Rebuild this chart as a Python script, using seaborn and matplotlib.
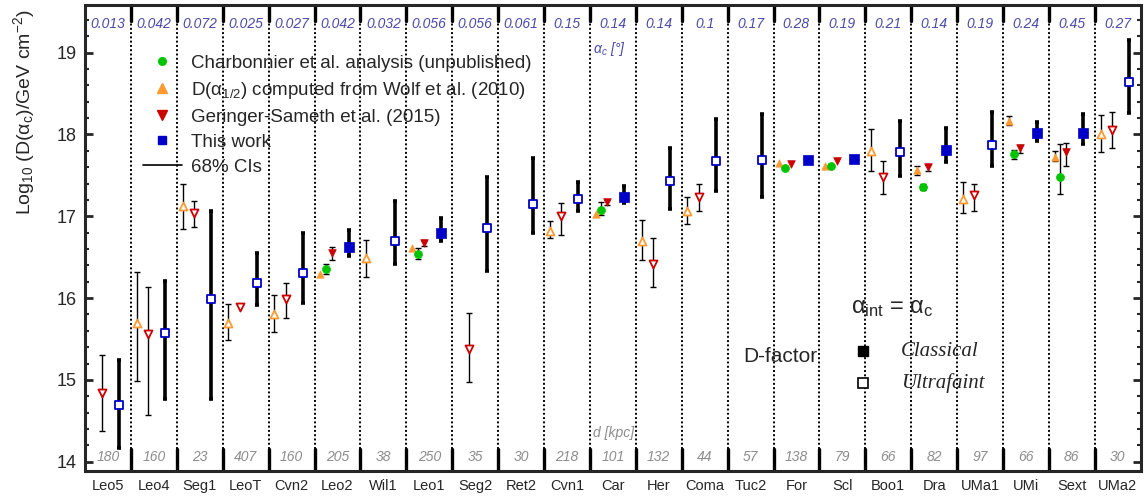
#!/usr/bin/env python3
# -*- coding: utf-8 -*-

"""
D-factor comparison for dwarf spheroidal galaxies.
"""

import numpy as np
import pandas as pd
import matplotlib
matplotlib.use("Agg")
import matplotlib.pyplot as plt
from matplotlib.lines import Line2D
from matplotlib.ticker import MultipleLocator
from matplotlib.transforms import blended_transform_factory
import seaborn as sns

nan = np.nan

galaxies = ["Leo5", "Leo4", "Seg1", "LeoT", "Cvn2", "Leo2", "Wil1", "Leo1",
            "Seg2", "Ret2", "Cvn1", "Car", "Her", "Coma", "Tuc2", "For",
            "Scl", "Boo1", "Dra", "UMa1", "UMi", "Sext", "UMa2"]
alpha_c = ["0.013", "0.042", "0.072", "0.025", "0.027", "0.042", "0.032",
           "0.056", "0.056", "0.061", "0.15", "0.14", "0.14", "0.1", "0.17",
           "0.28", "0.19", "0.21", "0.14", "0.19", "0.24", "0.45", "0.27"]
dist_kpc = [180, 160, 23, 407, 160, 205, 38, 250, 35, 30, 218, 101, 132, 44,
            57, 138, 79, 66, 82, 97, 66, 86, 30]
classical = ["Leo2", "Leo1", "Car", "For", "Scl", "Dra", "UMi", "Sext"]

# This work
tw_val = [14.69, 15.57, 15.99, 16.18, 16.31, 16.63, 16.70, 16.79, 16.86, 17.15,
          17.21, 17.24, 17.43, 17.68, 17.69, 17.69, 17.70, 17.78, 17.81, 17.87,
          18.02, 18.02, 18.64]
tw_lo = [14.17, 14.77, 14.77, 15.91, 15.94, 16.51, 16.42, 16.70, 16.33, 16.80,
         17.07, 17.16, 17.09, 17.31, 17.23, nan, nan, 17.49, 17.66, 17.62,
         17.92, 17.88, 18.26]
tw_hi = [15.24, 16.21, 17.06, 16.55, 16.79, 16.83, 17.19, 16.98, 17.48, 17.71,
         17.42, 17.37, 17.84, 18.19, 18.25, nan, nan, 18.16, 18.08, 18.27,
         18.15, 18.25, 19.16]

# Geringer-Sameth et al. (2015)
gs_val = [14.84, 15.56, 17.04, 15.89, 15.99, 16.55, nan, 16.67, 15.38, nan,
          17.00, 17.17, 16.42, 17.24, nan, 17.64, 17.68, 17.48, 17.60, 17.26,
          17.83, 17.79, 18.05]
gs_lo = [14.38, 14.57, 16.87, nan, 15.76, 16.46, nan, 16.64, 14.97, nan,
         16.77, 17.14, 16.13, 17.06, nan, nan, nan, 17.27, 17.55, 17.07,
         17.77, 17.61, 17.84]
gs_hi = [15.30, 16.13, 17.19, nan, 16.19, 16.62, nan, 16.71, 15.82, nan,
         17.16, 17.20, 16.74, 17.40, nan, nan, nan, 17.67, 17.63, 17.40,
         17.87, 17.90, 18.28]

# D(alpha_1/2) from Wolf et al. (2010)
wo_val = [nan, 15.70, 17.12, 15.70, 15.80, 16.30, 16.49, 16.61, nan, nan,
          16.82, 17.03, 16.70, 17.07, nan, 17.65, 17.62, 17.80, 17.56, 17.21,
          18.17, 17.73, 18.00]
wo_lo = [nan, 14.99, 16.84, 15.49, 15.58, nan, 16.26, nan, nan, nan,
         16.73, nan, 16.46, 16.91, nan, nan, nan, 17.55, 17.50, 17.04,
         18.12, 17.68, 17.79]
wo_hi = [nan, 16.32, 17.39, 15.93, 16.04, nan, 16.71, nan, nan, nan,
         16.94, nan, 16.95, 17.23, nan, nan, nan, 18.07, 17.62, 17.42,
         18.23, 17.80, 18.24]

# Charbonnier et al. (unpublished)
ch_val = [nan, nan, nan, nan, nan, 16.35, nan, 16.54, nan, nan,
          nan, 17.08, nan, nan, nan, 17.59, 17.61, nan, 17.36, nan,
          17.76, 17.48, nan]
ch_lo = [nan, nan, nan, nan, nan, 16.29, nan, 16.48, nan, nan,
         nan, 17.02, nan, nan, nan, nan, nan, nan, 17.32, nan,
         17.70, 17.27, nan]
ch_hi = [nan, nan, nan, nan, nan, 16.42, nan, 16.61, nan, nan,
         nan, 17.18, nan, nan, nan, nan, nan, nan, 17.40, nan,
         17.81, 17.88, nan]

GREEN = "#00c400"
ORANGE = "#ff9a33"
RED = "#cc0000"
BLUE = "#0000c8"
TOPCOL = "#4a4aa8"
GREY = "#8c8c8c"


def draw_series(ax, val, lo, hi, color, marker, offset, s_filled, s_open,
                thick=False):
    """
    Error bars plus open/filled markers for one data set.
    """
    df = pd.DataFrame({"galaxy": galaxies, "v": val, "lo": lo, "hi": hi})
    df["x"] = np.arange(len(df)) + offset
    df["classical"] = df["galaxy"].isin(classical)
    df = df.dropna(subset=["v"])

    err = df.dropna(subset=["lo", "hi"])
    if thick:
        ax.errorbar(err["x"], err["v"], yerr=[err["v"] - err["lo"], err["hi"] - err["v"]],
                    fmt="none", ecolor="black", elinewidth=2.6, capsize=1.6,
                    capthick=2.6, zorder=2)
    else:
        ax.errorbar(err["x"], err["v"], yerr=[err["v"] - err["lo"], err["hi"] - err["v"]],
                    fmt="none", ecolor="black", elinewidth=1.0, capsize=2.4,
                    capthick=1.0, zorder=2)

    sns.scatterplot(data=df[df["classical"]], x="x", y="v", marker=marker,
                    s=s_filled, color=color, edgecolor=color, linewidth=0.5,
                    ax=ax, zorder=3, legend=False)
    sns.scatterplot(data=df[~df["classical"]], x="x", y="v", marker=marker,
                    s=s_open, color="white", edgecolor=color, linewidth=1.3,
                    ax=ax, zorder=3, legend=False)


sns.set_style("ticks")
plt.rcParams["font.family"] = ["Liberation Sans", "DejaVu Sans"]
plt.rcParams["mathtext.fontset"] = "custom"
plt.rcParams["mathtext.rm"] = "Liberation Sans"
plt.rcParams["mathtext.it"] = "Liberation Sans:italic"

fig = plt.figure(figsize=(11.46, 5.0), dpi=100)
ax = fig.add_axes([85 / 1146, 29 / 500, 1055.7 / 1146, 466 / 500])

# column separators: dotted, with thick stubs at top and bottom
for i in range(len(galaxies) - 1):
    ax.axvline(i + 0.5, ymin=0.047, ymax=0.966, color="black", lw=1.4,
               ls=(0, (1, 1.2)), zorder=1)
    ax.axvline(i + 0.5, ymin=0.0, ymax=0.047, color="black", lw=2.4, zorder=1)
    ax.axvline(i + 0.5, ymin=0.966, ymax=1.0, color="black", lw=2.4, zorder=1)

draw_series(ax, wo_val, wo_lo, wo_hi, ORANGE, "^", -0.375, 28, 33)
draw_series(ax, ch_val, ch_lo, ch_hi, GREEN, "o", -0.25, 33, 33)
draw_series(ax, gs_val, gs_lo, gs_hi, RED, "v", -0.125, 30, 33)
draw_series(ax, tw_val, tw_lo, tw_hi, BLUE, "s", 0.25, 52, 36, thick=True)

ax.set_xlim(-0.5, len(galaxies) - 0.5)
ax.set_ylim(13.886, 19.583)
ax.set_xticks(range(len(galaxies)))
ax.set_xticklabels(galaxies)
ax.tick_params(axis="x", length=0, pad=6, labelsize=10.5)
ax.yaxis.set_major_locator(MultipleLocator(1))
ax.yaxis.set_minor_locator(MultipleLocator(0.2))
ax.tick_params(axis="y", which="major", direction="in", length=6, width=2,
               right=True, labelsize=13, pad=6)
ax.tick_params(axis="y", which="minor", direction="in", length=3, width=1.5,
               right=True)
for side in ["left", "right", "top", "bottom"]:
    ax.spines[side].set_linewidth(2.2)
ax.set_xlabel(None)
ax.set_ylabel("Log$_{10}$ (D(α$_{\\rm c}$)/GeV cm$^{-2}$)", fontsize=14)
ax.yaxis.set_label_coords(-0.045, 0.77)

trans = blended_transform_factory(ax.transData, ax.transAxes)
for i, a in enumerate(alpha_c):
    ax.text(i, 0.959, a, transform=trans, ha="center", va="center",
            style="italic", color=TOPCOL, fontsize=10)
for i, d in enumerate(dist_kpc):
    ax.text(i, 0.030, str(d), transform=trans, ha="center", va="center",
            style="italic", color=GREY, fontsize=10)
ax.text(10.57, 0.906, "α$_c$ [°]", transform=trans, ha="left",
        va="center", style="italic", color=TOPCOL, fontsize=10)
ax.text(11.46, 0.082, "d [kpc]", transform=trans, ha="right", va="center",
        style="italic", color=GREY, fontsize=10)

# class key
ax.text(17.09, 15.88, "α$_{\\rm int}$ = α$_{\\rm c}$", ha="center",
        va="center", fontsize=17)
ax.text(14.64, 15.28, "D-factor", ha="center", va="center", fontsize=15)
ax.plot([16.45], [15.35], marker="s", ms=6.5, color="black", ls="none")
ax.plot([16.45], [14.966], marker="s", ms=6.5, mfc="white", mec="black",
        mew=1.2, ls="none")
ax.text(17.27, 15.345, "Classical", ha="left", va="center", fontsize=15,
        family="Liberation Serif", style="italic")
ax.text(17.27, 14.96, "Ultrafaint", ha="left", va="center", fontsize=15,
        family="Liberation Serif", style="italic")

handles = [
    Line2D([], [], marker="o", color=GREEN, ls="none", ms=5.5),
    Line2D([], [], marker="^", color=ORANGE, ls="none", ms=6.5),
    Line2D([], [], marker="v", color=RED, ls="none", ms=6.5),
    Line2D([], [], marker="s", color=BLUE, ls="none", ms=5.5),
    Line2D([], [], color="black", lw=1.2),
]
labels = ["Charbonnier et al. analysis (unpublished)",
          "D(α$_{1/2}$) computed from Wolf et al. (2010)",
          "Geringer-Sameth et al. (2015)",
          "This work",
          "68% CIs"]
ax.legend(handles, labels, loc="upper left", bbox_to_anchor=(0.0547, 0.893),
          frameon=False, fontsize=13.5, handlelength=2.08, handletextpad=0.5,
          labelspacing=0.42, borderpad=0, borderaxespad=0)

fig.savefig("out.png", dpi=100)
